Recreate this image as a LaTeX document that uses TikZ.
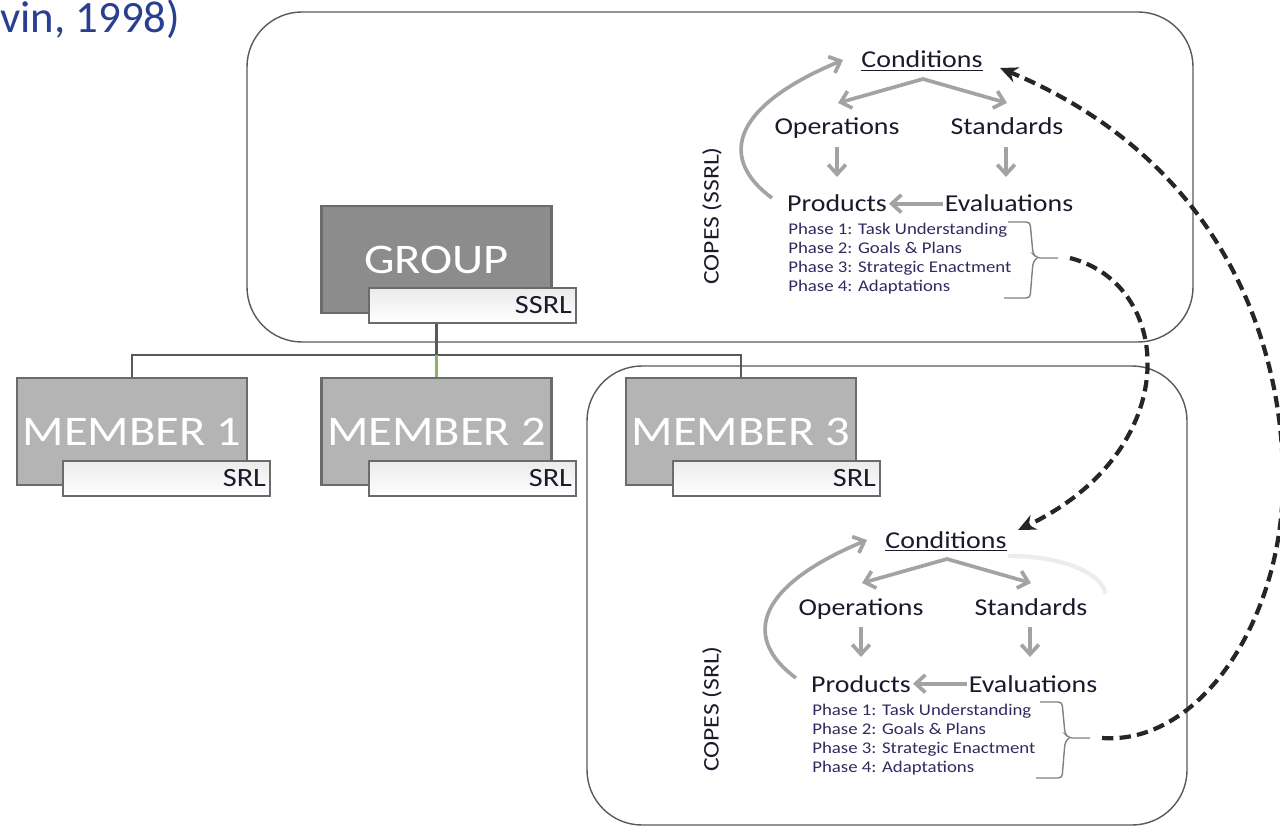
\documentclass[tikz,border=0pt]{standalone}
\usepackage{fontspec}
\setmainfont{Carlito}
\newfontfamily\wfont[FakeStretch=1.15]{Carlito}
\usetikzlibrary{arrows.meta}
\definecolor{titleblue}{HTML}{2A3F8F}
\definecolor{boxdark}{HTML}{8C8C8C}
\definecolor{boxlight}{HTML}{B4B4B4}
\definecolor{boxedge}{HTML}{6B6B6B}
\definecolor{lineg}{HTML}{595959}
\definecolor{arrowg}{HTML}{A3A3A3}
\definecolor{txt}{HTML}{1A1A2C}
\definecolor{phasec}{HTML}{34285F}
\definecolor{greenl}{HTML}{8DB360}
\tikzset{
 panel/.style={draw=lineg, line width=0.8pt, rounded corners=1.1cm},
 bigbox/.style={draw=boxedge, line width=1.6pt, minimum width=4.6cm, minimum height=2.14cm, inner sep=0pt, text=white},
 tagbox/.style={draw=boxedge, line width=1.6pt, top color=black!8, bottom color=white, minimum width=4.14cm, minimum height=0.7cm, text width=3.98cm, align=right, inner xsep=0.08cm, inner ysep=0pt, text=txt, font=\wfont\fontsize{15}{15}\selectfont},
 conn/.style={draw=lineg, line width=1.2pt},
 garrow/.style={draw=arrowg, line width=2.1pt, -{Straight Barb[length=5.5pt,width=10pt]}},
 gdouble/.style={draw=arrowg, line width=2.1pt, {Straight Barb[length=5.5pt,width=10pt]}-{Straight Barb[length=5.5pt,width=10pt]}},
 dasharrow/.style={draw=black!85, line width=2.4pt, dash pattern=on 6.5pt off 3.5pt, -{Stealth[length=10pt,width=9pt]}},
 lbl/.style={inner sep=1pt, text=txt, font=\wfont\fontsize{13.8}{14}\selectfont},
 phase/.style={inner sep=0pt, text=phasec, font=\wfont\fontsize{9.3}{10}\selectfont},
 copeslbl/.style={rotate=90, inner sep=0pt, text=txt, font=\wfont\fontsize{12.7}{13}\selectfont},
 bracestyle/.style={draw=black!50, line width=0.8pt, rounded corners=2pt}
}
\newcommand\copesblock[4]{%
\begin{scope}[shift={(#2,#3)}]
 \node[lbl, anchor=base] (#1cond) at (922,68) {\underline{Conditions}};
 \node[lbl, anchor=base] (#1ops) at (837,135) {Operations};
 \node[lbl, anchor=base] (#1std) at (1007,135) {Standards};
 \node[lbl, anchor=base] (#1prod) at (837,212) {Products};
 \node[lbl, anchor=base] (#1eval) at (1009,212) {Evaluations};
 \node[phase, anchor=base west] (#1pa) at (788,235) {Phase 1: Task Understanding};
 \node[phase, anchor=base west] (#1pb) at (788,254) {Phase 2: Goals \& Plans};
 \node[phase, anchor=base west] (#1pc) at (788,273) {Phase 3: Strategic Enactment};
 \node[phase, anchor=base west] (#1pd) at (788,292) {Phase 4: Adaptations};
 \coordinate (#1pk) at (923,79);
 \coordinate (#1la) at (838,103);
 \coordinate (#1ra) at (1007,103);
 \draw[gdouble] (#1la) -- (#1pk) -- (#1ra);
 \coordinate (#1oa) at (837,147);
 \coordinate (#1ob) at (837,177);
 \coordinate (#1sa) at (1006,147);
 \coordinate (#1sb) at (1006,177);
 \draw[garrow] (#1oa) -- (#1ob);
 \draw[garrow] (#1sa) -- (#1sb);
 \draw[garrow] (#1eval.west) -- (#1eval.west -| #1prod.east);
 \coordinate (#1cs) at (772,198);
 \coordinate (#1ce) at (843,60);
 \draw[garrow] (#1cs) .. controls (720,160) and (728,108) .. (#1ce);
 \coordinate (#1tip) at (1058+#4,258);
 \coordinate (#1ds) at (1070+#4,258);
 \draw[bracestyle] (1008+#4,222) -- (1030+#4,222) -- (1033+#4,254) -- (1037+#4,258) -- (#1tip);
 \draw[bracestyle] (1037+#4,258) -- (1033+#4,262) -- (1030+#4,298) -- (1004+#4,298);
\end{scope}}
\begin{document}
\begin{tikzpicture}[x=0.02cm,y=-0.02cm]
\useasboundingbox (0,0) rectangle (1280,827);
% title fragment
\node[anchor=base west, inner sep=0pt, text=titleblue, font=\fontsize{25.5}{26}\selectfont] (title) at (0,33) {vin, 1998)};
% panels
\draw[panel] (247,12) rectangle (1193,342);
\draw[panel] (587,366) rectangle (1187,825);
% faint smudge
\draw[black!7, line width=2.5pt, line cap=round] (1010,556) .. controls (1060,556) and (1100,572) .. (1105,592);
% boxes
\node[bigbox, fill=boxdark, font=\wfont\fontsize{24}{24}\selectfont] (group) at (436.5,259.5) {GROUP};
\node[tagbox] (gtag) at (472.5,305.5) {SSRL};
\coordinate (jn) at (436.5,355);
\node[bigbox, fill=boxlight, font=\wfont\fontsize{24}{24}\selectfont] (m1) at (132,431.5) {MEMBER 1};
\node[bigbox, fill=boxlight, font=\wfont\fontsize{24}{24}\selectfont] (m2) at (436.5,431.5) {MEMBER 2};
\node[bigbox, fill=boxlight, font=\wfont\fontsize{24}{24}\selectfont] (m3) at (741,431.5) {MEMBER 3};
\node[tagbox] (t1) at (166.5,478.5) {SRL};
\node[tagbox] (t2) at (472.5,478.5) {SRL};
\node[tagbox] (t3) at (776.5,478.5) {SRL};
% connectors
\draw[conn] (group.center |- gtag.south) -- (jn);
\draw[conn] (m1.north) -- (m1.north |- jn) -- (m3.north |- jn) -- (m3.north);
\draw[conn, draw=greenl] (jn) -- (m2.north);
% COPES blocks
\copesblock{a}{0}{0}{0}
\copesblock{b}{24}{480}{8}
\node[copeslbl] (copesa) at (712,216) {COPES (SSRL)};
\node[copeslbl] (copesb) at (712,709) {COPES (SRL)};
% dashed links
\coordinate (ain) at (1000,68);
\coordinate (bin) at (1018,530);
\draw[dasharrow] (ads) .. controls (1175,285) and (1185,450) .. (bin);
\draw[dasharrow] (bds) .. controls (1200,745) and (1283,620) .. (1283,480) .. controls (1283,340) and (1220,160) .. (ain);
\end{tikzpicture}
\end{document}
